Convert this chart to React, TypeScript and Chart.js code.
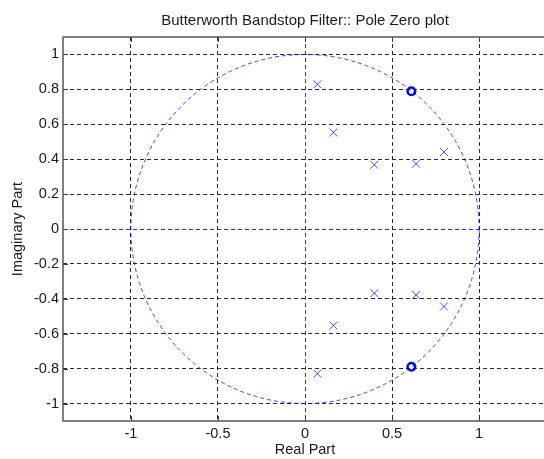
import React, { useEffect, useRef } from "react";
import { Chart, registerables } from "chart.js";

Chart.register(...registerables);

// ---- data ----
const poleRe = [0.071, 0.163, 0.398, 0.638, 0.798, 0.071, 0.163, 0.398, 0.638, 0.798];
const poleIm = [0.829, 0.553, 0.368, 0.374, 0.441, -0.829, -0.553, -0.368, -0.378, -0.444];
const zeroRe = [0.611, 0.611];
const zeroIm = [0.789, -0.789];

const xTicks = [-1, -0.5, 0, 0.5, 1];
const xTickLabels = ["-1", "-0.5", "0", "0.5", "1"];
const yTicks = [-1, -0.8, -0.6, -0.4, -0.2, 0, 0.2, 0.4, 0.6, 0.8, 1];
const yTickLabels = ["-1", "-0.8", "-0.6", "-0.4", "-0.2", "0", "0.2", "0.4", "0.6", "0.8", "1"];
const xRange = [-1.39, 1.39];
const yRange = [-1.1, 1.1];
const unitCircleRadius = [1];

const titleText = "Butterworth Bandstop Filter:: Pole Zero plot";
const xTitle = "Real Part";
const yTitle = "Imaginary Part";

const FONT = "'Liberation Sans', Arial, Helvetica, sans-serif";
const TEXT = "#1a1a1a";
const GRID = "#2a2a2a";
const BLUE = "rgba(0,0,255,0.85)";

const unitCirclePlugin = {
  id: "unitCircle",
  beforeDatasetsDraw(chart: any) {
    const { ctx, scales, chartArea } = chart;
    const xs = scales.x;
    const ys = scales.y;
    ctx.save();
    ctx.beginPath();
    ctx.rect(chartArea.left, chartArea.top, chartArea.right - chartArea.left, chartArea.bottom - chartArea.top);
    ctx.clip();
    ctx.strokeStyle = "rgba(0,0,255,0.75)";
    ctx.lineWidth = 1;
    ctx.setLineDash([4, 3]);
    unitCircleRadius.forEach((r) => {
      const cx = xs.getPixelForValue(0);
      const cy = ys.getPixelForValue(0);
      const rx = xs.getPixelForValue(r) - cx;
      const ry = cy - ys.getPixelForValue(r);
      ctx.beginPath();
      ctx.ellipse(cx, cy, rx, ry, 0, 0, Math.PI * 2);
      ctx.stroke();
    });
    ctx.restore();
  },
};

const framePlugin = {
  id: "frame",
  afterDraw(chart: any) {
    const { ctx, chartArea, scales } = chart;
    const { left, top, right, bottom } = chartArea;
    ctx.save();
    ctx.setLineDash([]);
    ctx.strokeStyle = "#3a3a3a";
    ctx.lineWidth = 1;
    const tl = 5;
    ctx.beginPath();
    xTicks.forEach((v) => {
      const px = Math.round(scales.x.getPixelForValue(v)) + 0.5;
      ctx.moveTo(px, top);
      ctx.lineTo(px, top + tl);
      ctx.moveTo(px, bottom);
      ctx.lineTo(px, bottom - tl);
    });
    yTicks.forEach((v) => {
      const py = Math.round(scales.y.getPixelForValue(v)) + 0.5;
      ctx.moveTo(left, py);
      ctx.lineTo(left + tl, py);
    });
    ctx.stroke();
    ctx.strokeStyle = "#555555";
    ctx.lineWidth = 1.5;
    ctx.beginPath();
    ctx.moveTo(right + 2, top);
    ctx.lineTo(left, top);
    ctx.lineTo(left, bottom);
    ctx.lineTo(right + 2, bottom);
    ctx.stroke();
    ctx.restore();
  },
};

export default function App() {
  const ref = useRef<HTMLCanvasElement>(null);

  useEffect(() => {
    const canvas = ref.current;
    if (!canvas) return;
    const gridColor = (c: any) => (c.tick && c.tick.value === 0 ? BLUE : GRID);
    const chart = new Chart(canvas, {
      type: "scatter",
      data: {
        datasets: [
          {
            label: "Poles",
            data: poleRe.map((x, i) => ({ x, y: poleIm[i] })),
            pointStyle: "crossRot",
            pointRadius: 5.6,
            borderColor: "rgba(30,30,255,0.8)",
            backgroundColor: "rgba(30,30,255,0.8)",
            borderWidth: 1,
            showLine: false,
          },
          {
            label: "Zeros",
            data: zeroRe.map((x, i) => ({ x, y: zeroIm[i] })),
            pointStyle: "circle",
            pointRadius: 3.8,
            borderColor: "#0000ff",
            backgroundColor: "rgba(0,0,0,0)",
            borderWidth: 2.5,
            showLine: false,
          },
        ],
      },
      options: {
        responsive: false,
        animation: false,
        events: [],
        layout: { padding: 0, autoPadding: false },
        plugins: {
          legend: { display: false },
          tooltip: { enabled: false },
          title: {
            display: true,
            text: titleText,
            fullSize: false,
            color: TEXT,
            padding: { top: 11.5, bottom: 7.5 },
            font: { family: FONT, size: 15, weight: "normal", lineHeight: 1.2 },
          },
        },
        scales: {
          x: {
            type: "linear",
            position: "bottom",
            min: xRange[0],
            max: xRange[1],
            afterFit: (s: any) => {
              s.height = 38;
            },
            afterBuildTicks: (s: any) => {
              s.ticks = xTicks.map((v) => ({ value: v }));
            },
            ticks: {
              callback: (_v: any, i: number) => xTickLabels[i],
              padding: 4,
              color: TEXT,
              maxRotation: 0,
              autoSkip: false,
              font: { family: FONT, size: 14.5, lineHeight: 1.2 },
            },
            grid: { color: gridColor, lineWidth: 1, drawTicks: false },
            border: { display: false, dash: [4, 3] },
            title: {
              display: true,
              text: xTitle,
              color: TEXT,
              padding: { top: 0, bottom: 0 },
              font: { family: FONT, size: 14.5, lineHeight: 1.2 },
            },
          },
          y: {
            type: "linear",
            position: "left",
            min: yRange[0],
            max: yRange[1],
            afterFit: (s: any) => {
              s.width = 63;
            },
            afterBuildTicks: (s: any) => {
              s.ticks = yTicks.map((v) => ({ value: v }));
            },
            ticks: {
              callback: (_v: any, i: number) => yTickLabels[i],
              padding: 4,
              color: TEXT,
              autoSkip: false,
              font: { family: FONT, size: 14.5, lineHeight: 1.2 },
            },
            grid: { color: gridColor, lineWidth: 1, drawTicks: false },
            border: { display: false, dash: [4, 3] },
            title: {
              display: true,
              text: yTitle,
              color: TEXT,
              padding: { top: 9.3, bottom: 0 },
              font: { family: FONT, size: 14.5, lineHeight: 1.2 },
            },
          },
        },
      },
      plugins: [unitCirclePlugin, framePlugin],
    } as any);
    return () => chart.destroy();
  }, []);

  return (
    <div
      style={{
        position: "absolute",
        left: 0,
        top: 0,
        width: 544,
        height: 459,
        overflow: "hidden",
        background: "#ffffff",
      }}
    >
      <canvas ref={ref} width={547} height={459} style={{ display: "block", width: 547, height: 459 }} />
    </div>
  );
}
